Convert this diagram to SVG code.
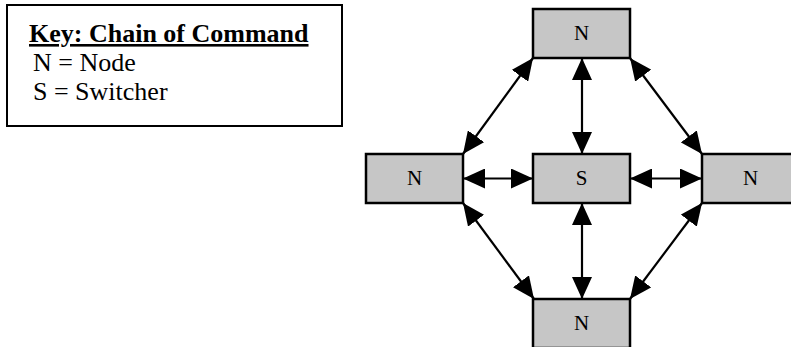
<svg xmlns="http://www.w3.org/2000/svg" width="791" height="347" viewBox="0 0 791 347">
<style>
.box{fill:#c6c6c6;stroke:#000;stroke-width:2.5}
.lbl{font-family:"Liberation Serif","Times New Roman",serif;font-size:21px;fill:#000;text-anchor:middle}
.key{font-family:"Liberation Serif","Times New Roman",serif;font-size:26px;fill:#000}
.conn{stroke:#000;stroke-width:2.2;fill:none;marker-start:url(#ah);marker-end:url(#ah)}
</style>
<defs>
<marker id="ah" markerUnits="userSpaceOnUse" markerWidth="22" markerHeight="20" refX="22" refY="10" orient="auto-start-reverse" viewBox="0 0 22 20">
<path d="M0,0 L22,10 L0,20 z" fill="#000"/>
</marker>
</defs>
<rect width="791" height="347" fill="#fff"/>
<g id="key">
<rect x="7" y="5" width="335" height="121" fill="#fff" stroke="#000" stroke-width="2"/>
<text class="key" x="29" y="42" font-weight="bold" text-decoration="underline">Key: Chain of Command</text>
<text class="key" x="33" y="71">N = Node</text>
<text class="key" x="33" y="100">S = Switcher</text>
</g>
<g id="connectors">
<line class="conn" x1="582" y1="58" x2="582" y2="154"/>
<line class="conn" x1="582" y1="203" x2="582" y2="299"/>
<line class="conn" x1="463" y1="178.5" x2="533" y2="178.5"/>
<line class="conn" x1="630" y1="178.5" x2="702" y2="178.5"/>
<line class="conn" x1="533" y1="58" x2="463" y2="154"/>
<line class="conn" x1="630" y1="58" x2="702" y2="154"/>
<line class="conn" x1="463" y1="203" x2="534" y2="299"/>
<line class="conn" x1="702" y1="203" x2="630" y2="299"/>
</g>
<g id="node-top">
<rect class="box" x="533" y="9" width="97" height="49"/>
<text class="lbl" x="581.5" y="40">N</text>
</g>
<g id="node-left">
<rect class="box" x="366" y="154" width="97" height="49"/>
<text class="lbl" x="414.5" y="185">N</text>
</g>
<g id="node-switcher">
<rect class="box" x="533" y="154" width="97" height="49"/>
<text class="lbl" x="581.5" y="185">S</text>
</g>
<g id="node-right">
<rect class="box" x="702" y="154" width="97" height="49"/>
<text class="lbl" x="750.5" y="185">N</text>
</g>
<g id="node-bottom">
<rect class="box" x="533" y="299" width="97" height="49"/>
<text class="lbl" x="581.5" y="330">N</text>
</g>
</svg>
